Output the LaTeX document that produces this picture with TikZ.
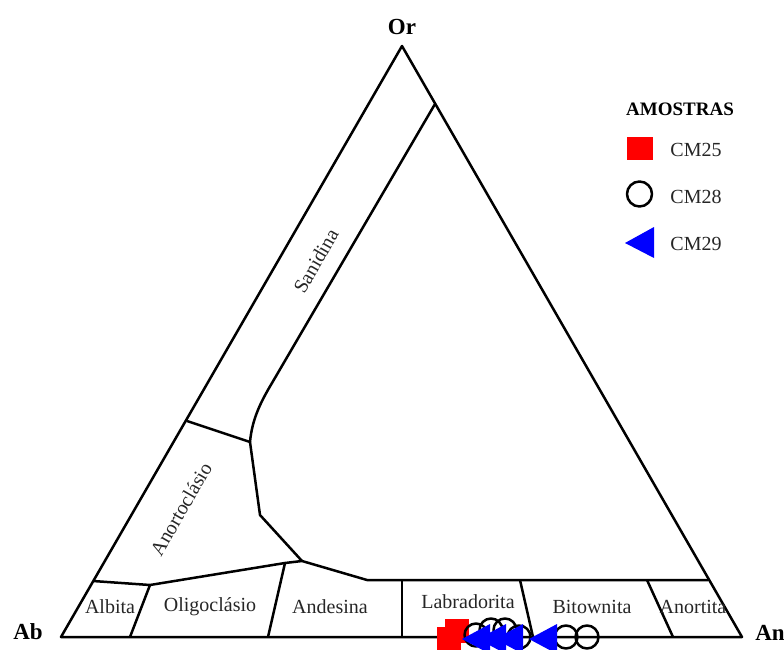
\documentclass[tikz,border=0pt]{standalone}
\usepackage{fontspec}
\setmainfont{Liberation Serif}
\begin{document}
\begin{tikzpicture}[x=1pt,y=-1pt,line width=2.5pt,line join=round,
    region/.style={font=\fontsize{20}{24}\selectfont,text=black!85,inner sep=0pt},
    vertex/.style={font=\fontsize{23}{26}\selectfont\bfseries,inner sep=0pt},
    keytext/.style={font=\fontsize{20}{24}\selectfont,text=black!85,inner sep=0pt},
    redsq/.style={fill=red,draw=none},
    blkcirc/.style={draw=black,line width=2.5pt},
    bluetri/.style={fill=blue,draw=none}]
    \useasboundingbox (0,0) rectangle (784,650);

    \coordinate (Ab) at (61,637);
    \coordinate (An) at (742,637);
    \coordinate (Or) at (402,46);
    \draw (Ab) -- (An) -- (Or) -- cycle;

    \coordinate (s1) at (435,104);
    \coordinate (s2) at (272,383);
    \coordinate (j1) at (250,442);
    \coordinate (a1) at (187,421);
    \coordinate (j2) at (260,515);
    \coordinate (j3) at (302,561);
    \coordinate (b1) at (93,581);
    \coordinate (b2) at (150,585);
    \coordinate (b3) at (285,563);
    \coordinate (b4) at (367,580);
    \coordinate (b5) at (708,580);
    \coordinate (t1) at (402,580);
    \coordinate (t2) at (520,580);
    \coordinate (t3) at (647,580);
    \coordinate (c1) at (130,637);
    \coordinate (c2) at (268,637);
    \coordinate (c3) at (402,637);
    \coordinate (c4) at (533,637);
    \coordinate (c5) at (673,637);

    \draw (s1) -- (s2) .. controls (260,403) and (252,420) .. (j1);
    \draw (a1) -- (j1) -- (j2) -- (j3);
    \draw (b1) -- (b2) -- (b3) -- (j3) -- (b4) -- (b5);
    \draw (b2) -- (c1);
    \draw (b3) -- (c2);
    \draw (t1) -- (c3);
    \draw (t2) -- (c4);
    \draw (t3) -- (c5);

    \node[vertex] (or) at (402,27) {Or};
    \node[vertex] (ab) at (28,632) {Ab};
    \node[vertex,anchor=west] (an) at (754,633) {An};

    \node[region,rotate=60] (sanidina) at (316,261) {Sanidina};
    \node[region,rotate=60] (anortoclasio) at (181,509) {Anortoclásio};
    \node[region] (albita) at (110,607) {Albita};
    \node[region] (oligoclasio) at (210,607) {Oligoclásio};
    \node[region] (andesina) at (330,607) {Andesina};
    \node[region] (labradorita) at (468,602) {Labradorita};
    \node[region] (bitownita) at (592,607) {Bitownita};
    \node[region] (anortita) at (693,607) {Anortita};

    \foreach \x/\y in {449/639, 457/631}
        \fill[redsq] (\x,\y) ++(-12,-12) rectangle ++(24,24);
    \foreach \x/\y in {476/635, 491/630, 505/630, 519/637, 566/637, 587/637}
        \draw[blkcirc] (\x,\y) circle[radius=11.5];
    \foreach \x in {462, 478, 495, 529}
        \fill[bluetri] (\x,639) -- ++(28,-15) -- ++(0,30) -- cycle;

    \node[font=\fontsize{19}{22}\selectfont\bfseries,inner sep=0pt] (amostras) at (680,109) {AMOSTRAS};
    \node[redsq,minimum width=26pt,minimum height=23pt,inner sep=0pt] (key25) at (640,148.5) {};
    \node[circle,blkcirc,minimum size=25pt,inner sep=0pt] (key28) at (639.5,194) {};
    \fill[bluetri] (625,243) -- ++(29,-16) -- ++(0,31) -- cycle;
    \node[keytext] (cm25) at (696,150) {CM25};
    \node[keytext] (cm28) at (696,197) {CM28};
    \node[keytext] (cm29) at (696,244) {CM29};
\end{tikzpicture}
\end{document}
